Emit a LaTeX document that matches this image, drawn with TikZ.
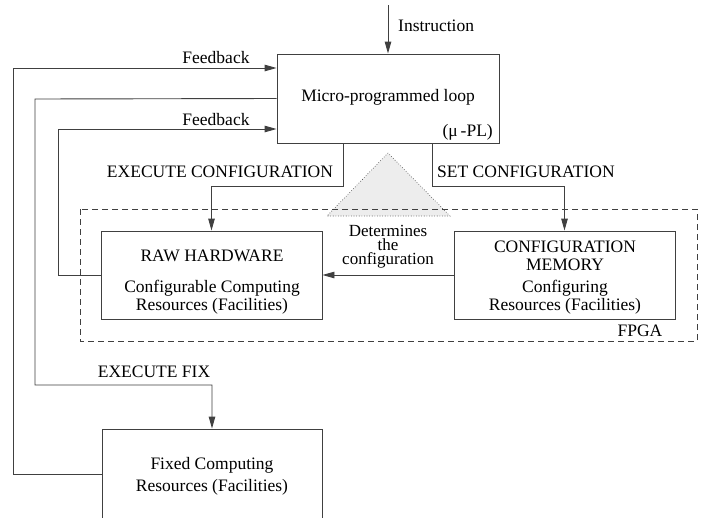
\documentclass[tikz,border=0pt]{standalone}
\usepackage{fontspec}
\setmainfont{Liberation Serif}
\usetikzlibrary{arrows.meta}
\begin{document}
\begin{tikzpicture}[x=1pt,y=-1pt,
  ln/.style={draw=black!75, line width=0.9pt},
  arr/.style={ln, -{Triangle[length=12pt,width=6.5pt]}},
  box/.style={ln, rectangle, inner sep=0pt},
  txt/.style={font=\fontsize{17.5}{20}\selectfont, inner sep=0pt, align=center},
  tight/.style={font=\fontsize{17}{14}\selectfont, inner sep=0pt, align=center}]
\clip (0,0) rectangle (707,517);
\fill[white] (0,0) rectangle (707,517);
% triangle
\coordinate (tA) at (388,153);
\coordinate (tB) at (327,216);
\coordinate (tC) at (450,216);
\draw[fill=black!7, draw=black!80, dotted, line width=0.6pt] (tA) -- (tB) -- (tC) -- cycle;
% FPGA region
\draw[ln, dash pattern=on 6pt off 4pt] (80,209) rectangle (697,341);
\node[txt, anchor=center] (fpga) at (640,331) {FPGA};
% boxes
\node[box, minimum width=222pt, minimum height=89pt] (micro) at (388,98.5) {};
\node[box, minimum width=221pt, minimum height=88pt] (raw) at (211.5,275) {};
\node[box, minimum width=221pt, minimum height=88pt] (cfg) at (564.5,275) {};
\node[box, minimum width=220pt, minimum height=90pt] (fixed) at (212,474) {};
% box texts
\node[txt] (microt) at (388,97) {Micro-programmed loop};
\node[txt, anchor=east] (mupl) at (493,132) {(μ\,-PL)};
\node[txt] (rawt1) at (212,256) {RAW HARDWARE};
\node[txt] (rawt2) at (212,297) {Configurable Computing\\[-2pt]Resources (Facilities)};
\node[txt] (cfgt1) at (565,256) {CONFIGURATION\\[-2pt]MEMORY};
\node[txt] (cfgt2) at (565,297) {Configuring\\[-2pt]Resources (Facilities)};
\node[txt] (fixt) at (212,476) {Fixed Computing\\[2pt]Resources (Facilities)};
% instruction
\coordinate (ins) at (388,5);
\draw[arr] (ins) -- (micro.north);
\node[txt, anchor=west] (inst) at (398,26) {Instruction};
% outer feedback
\coordinate (c1a) at (13,474);
\coordinate (c1b) at (13,68);
\draw[arr] (fixed.west |- c1a) -- (c1a) -- (c1b) -- (micro.west |- c1b);
\node[txt] (fb1) at (216,58) {Feedback};
% execute fix
\coordinate (c2a) at (35,99);
\coordinate (c2b) at (35,385);
\draw[arr] (micro.west) -- (c2a) -- (c2b) -- (c2b -| fixed.north) -- (fixed.north);
\node[txt] (exfix) at (154,372) {EXECUTE FIX};
% inner feedback
\coordinate (c3a) at (58,275);
\coordinate (c3b) at (58,129);
\draw[arr] (raw.west) -- (c3a) -- (c3b) -- (micro.west |- c3b);
\node[txt] (fb2) at (216,120) {Feedback};
% execute configuration
\coordinate (ec) at (343,186);
\draw[arr] (micro.south -| ec) -- (ec) -- (ec -| raw.north) -- (raw.north);
\node[txt] (exconf) at (220,172) {EXECUTE CONFIGURATION};
% set configuration
\coordinate (sc) at (432,186);
\draw[arr] (micro.south -| sc) -- (sc) -- (sc -| cfg.north) -- (cfg.north);
\node[txt, anchor=west] (setconf) at (437,172) {SET CONFIGURATION};
% determines
\draw[arr] (cfg.west) -- (raw.east);
\node[tight] (det) at (388,247) {Determines\\the\\configuration};
\end{tikzpicture}
\end{document}
